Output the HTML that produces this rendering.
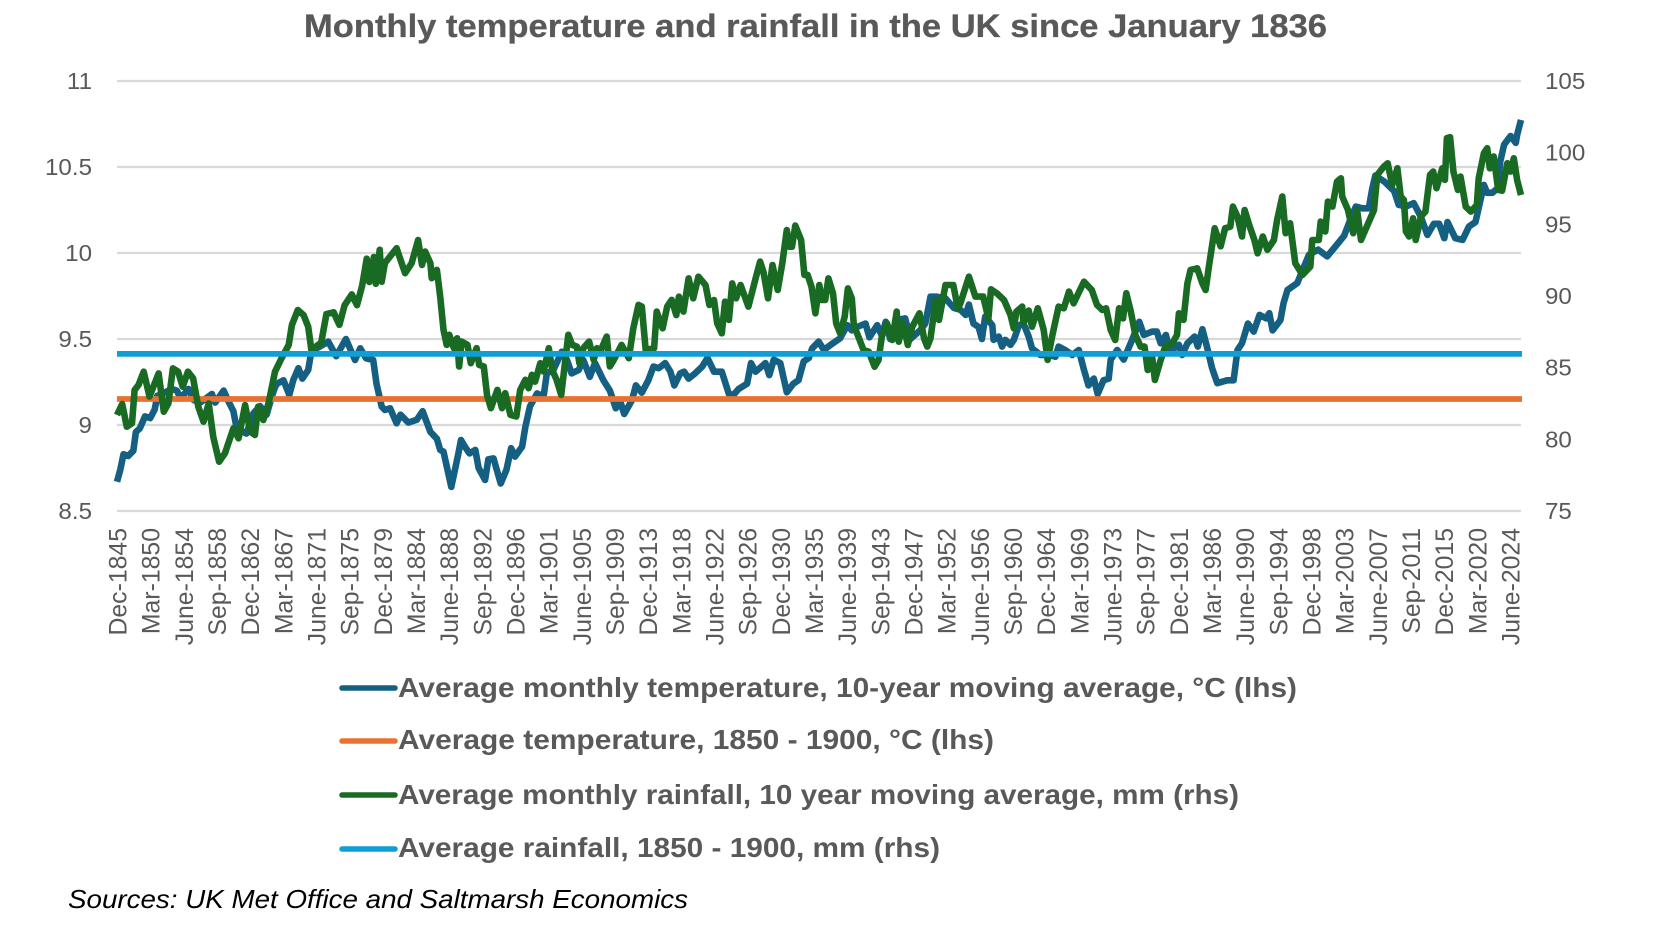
<!DOCTYPE html>
<html lang="en">
<head>
<meta charset="utf-8">
<title>Monthly temperature and rainfall in the UK since January 1836</title>
<style>
html,body{margin:0;padding:0;background:#fff;}
svg{display:block;font-family:"Liberation Sans",sans-serif;}
</style>
</head>
<body>
<svg id="chart" xmlns="http://www.w3.org/2000/svg" width="1665" height="942" viewBox="0 0 1665 942">
  <rect x="0" y="0" width="1665" height="942" fill="#ffffff"/>
  <text x="304" y="37" font-size="32" font-weight="700" fill="#595959" stroke="#595959" stroke-width="0.3" textLength="1023" lengthAdjust="spacingAndGlyphs">Monthly temperature and rainfall in the UK since January 1836</text>
  <g id="grid"></g>
  <g id="left-axis"></g>
  <g id="right-axis"></g>
  <g id="x-axis"></g>
  <g id="series"></g>

  <g>
    <g>
      <line x1="342" x2="395" y1="688" y2="688" stroke="#156082" stroke-width="5.5" stroke-linecap="round"/>
      <text x="398" y="697" font-size="28" font-weight="700" fill="#595959" textLength="899" lengthAdjust="spacingAndGlyphs">Average monthly temperature, 10-year moving average, °C (lhs)</text>
    </g>
    <g>
      <line x1="342" x2="395" y1="741" y2="741" stroke="#E97132" stroke-width="5.5" stroke-linecap="round"/>
      <text x="398" y="749" font-size="28" font-weight="700" fill="#595959" textLength="596" lengthAdjust="spacingAndGlyphs">Average temperature, 1850 - 1900, °C (lhs)</text>
    </g>
    <g>
      <line x1="342" x2="395" y1="795" y2="795" stroke="#196B24" stroke-width="5.5" stroke-linecap="round"/>
      <text x="398" y="804" font-size="28" font-weight="700" fill="#595959" textLength="841" lengthAdjust="spacingAndGlyphs">Average monthly rainfall, 10 year moving average, mm (rhs)</text>
    </g>
    <g>
      <line x1="342" x2="395" y1="849" y2="849" stroke="#0F9ED5" stroke-width="5.5" stroke-linecap="round"/>
      <text x="398" y="857" font-size="28" font-weight="700" fill="#595959" textLength="542" lengthAdjust="spacingAndGlyphs">Average rainfall, 1850 - 1900, mm (rhs)</text>
    </g>
  </g>

  <text x="68" y="908" font-size="25.6" font-style="italic" fill="#000000" textLength="620" lengthAdjust="spacingAndGlyphs">Sources: UK Met Office and Saltmarsh Economics</text>
</svg>

<script>
const categoryLabels = ["Dec-1845","Mar-1850","June-1854","Sep-1858","Dec-1862","Mar-1867","June-1871","Sep-1875","Dec-1879","Mar-1884","June-1888","Sep-1892","Dec-1896","Mar-1901","June-1905","Sep-1909","Dec-1913","Mar-1918","June-1922","Sep-1926","Dec-1930","Mar-1935","June-1939","Sep-1943","Dec-1947","Mar-1952","June-1956","Sep-1960","Dec-1964","Mar-1969","June-1973","Sep-1977","Dec-1981","Mar-1986","June-1990","Sep-1994","Dec-1998","Mar-2003","June-2007","Sep-2011","Dec-2015","Mar-2020","June-2024"];
const categoryStepMonths = 51;
const lastMonth = 2159;
const leftTicks = ["8.5","9","9.5","10","10.5","11"];
const rightTicks = ["75","80","85","90","95","100","105"];
const temperatureBaseline = 9.151;
const rainfallBaseline = 85.96;

const tempMonths = [
0,5,10,17,25,29,35,43,51,58,
62,69,84,92,98,110,118,128,146,151,
164,171,179,184,189,199,210,220,230,238,
243,246,256,265,271,279,285,294,299,312,
325,337,352,366,374,383,394,399,407,412,
420,430,436,448,461,470,482,492,497,502,
514,525,529,535,542,551,556,566,571,579,
590,599,606,612,623,628,635,646,656,661,
671,684,692,699,710,717,727,735,748,758,
767,774,780,792,798,807,817,825,833,843,
851,857,866,872,879,889,900,908,918,930,
941,948,956,969,975,982,997,1003,1010,1020,
1030,1040,1048,1056,1064,1069,1079,1087,1097,1112,
1123,1130,1138,1151,1157,1169,1176,1182,1189,1200,
1212,1220,1235,1243,1251,1261,1274,1287,1297,1305,
1310,1317,1325,1330,1335,1346,1348,1356,1361,1366,
1374,1379,1387,1394,1402,1407,1420,1433,1443,1448,
1458,1469,1479,1487,1494,1502,1508,1517,1525,1528,
1538,1548,1561,1572,1579,1592,1599,1605,1613,1619,
1633,1638,1646,1657,1662,1669,1676,1684,1692,1707,
1717,1723,1730,1739,1748,1757,1767,1772,1777,1789,
1794,1800,1815,1823,1833,1847,1861,1874,1887,1894,
1905,1915,1925,1930,1935,1949,1964,1971,1982,1994,
2005,2015,2025,2033,2041,2046,2058,2069,2079,2089,
2102,2107,2115,2123,2127,2133,2143,2151,2153,2159];
const tempValues = [
8.67,8.74,8.83,8.82,8.85,8.96,8.98,9.05,9.04,9.09,
9.17,9.18,9.21,9.20,9.155,9.21,9.145,9.13,9.18,9.13,
9.20,9.14,9.08,8.98,8.97,8.95,9.07,9.11,9.06,9.165,
9.22,9.24,9.26,9.175,9.26,9.33,9.27,9.32,9.43,9.456,
9.485,9.40,9.50,9.378,9.446,9.388,9.378,9.24,9.107,9.087,
9.097,9.01,9.06,9.014,9.03,9.08,8.96,8.92,8.855,8.845,
8.64,8.835,8.913,8.874,8.835,8.855,8.75,8.68,8.80,8.806,
8.66,8.74,8.865,8.816,8.874,8.99,9.107,9.184,9.165,9.30,
9.32,9.426,9.378,9.30,9.32,9.378,9.28,9.36,9.26,9.20,
9.097,9.136,9.064,9.145,9.23,9.188,9.26,9.34,9.33,9.36,
9.31,9.23,9.30,9.31,9.27,9.30,9.34,9.39,9.31,9.31,
9.18,9.175,9.21,9.24,9.36,9.31,9.36,9.29,9.38,9.36,
9.19,9.24,9.26,9.37,9.39,9.446,9.485,9.436,9.465,9.504,
9.58,9.55,9.57,9.59,9.51,9.58,9.52,9.60,9.50,9.61,
9.62,9.50,9.55,9.59,9.746,9.746,9.736,9.68,9.67,9.64,
9.70,9.59,9.57,9.50,9.63,9.58,9.495,9.514,9.456,9.495,
9.466,9.495,9.58,9.59,9.514,9.446,9.407,9.407,9.397,9.456,
9.436,9.407,9.436,9.32,9.23,9.27,9.18,9.26,9.27,9.38,
9.436,9.38,9.495,9.60,9.524,9.543,9.543,9.475,9.524,9.427,
9.466,9.407,9.475,9.514,9.456,9.557,9.456,9.33,9.243,9.26,
9.26,9.436,9.475,9.59,9.543,9.64,9.62,9.65,9.55,9.61,
9.71,9.785,9.825,9.90,9.99,10.02,9.98,10.04,10.10,10.17,
10.27,10.26,10.26,10.37,10.45,10.415,10.36,10.28,10.27,10.29,
10.21,10.105,10.17,10.17,10.086,10.18,10.086,10.076,10.154,10.18,
10.396,10.35,10.35,10.376,10.53,10.63,10.68,10.64,10.686,10.774];

const rainMonths = [
0,8,15,23,27,33,41,50,56,64,
72,79,86,94,101,109,117,125,133,141,
148,157,166,179,187,197,205,212,217,225,
233,243,253,264,269,278,287,294,299,303,
314,322,333,342,350,361,369,377,384,388,
395,398,404,407,412,430,443,453,463,469,
474,482,484,492,497,502,507,511,518,523,
526,530,539,544,553,557,564,569,575,585,
592,597,605,614,620,628,633,638,643,651,
656,664,669,676,683,694,700,707,711,717,
726,733,738,743,753,758,764,776,787,794,
802,807,813,826,830,839,846,853,860,864,
871,879,886,894,905,911,918,923,930,935,
941,946,952,959,971,982,989,994,1001,1008,
1016,1023,1030,1034,1038,1043,1052,1057,1062,1068,
1074,1080,1084,1089,1094,1101,1106,1112,1119,1124,
1130,1133,1141,1148,1156,1165,1171,1176,1184,1192,
1199,1202,1209,1216,1223,1234,1241,1246,1251,1259,
1264,1274,1286,1293,1297,1310,1320,1332,1340,1344,
1353,1364,1374,1379,1383,1392,1394,1402,1407,1416,
1425,1431,1438,1448,1456,1464,1471,1487,1499,1507,
1515,1521,1528,1535,1541,1547,1552,1559,1566,1574,
1580,1585,1592,1596,1605,1612,1623,1630,1633,1640,
1646,1651,1661,1669,1674,1679,1688,1697,1704,1712,
1716,1723,1730,1734,1741,1749,1754,1762,1769,1779,
1784,1792,1797,1804,1812,1823,1835,1838,1848,1851,
1858,1862,1869,1876,1882,1884,1893,1901,1907,1913,
1923,1933,1938,1948,1954,1961,1969,1974,1979,1982,
1987,1993,1997,2005,2012,2019,2024,2029,2038,2042,
2045,2050,2055,2062,2066,2074,2082,2091,2094,2102,
2107,2111,2117,2124,2130,2138,2143,2148,2153,2159];
const rainValues = [
81.70,82.46,80.88,81.12,83.44,83.79,84.72,82.98,83.67,84.60,
81.93,82.51,84.95,84.72,83.67,84.72,84.26,82.28,81.23,82.51,
80.19,78.44,79.02,80.77,80.07,82.39,80.53,80.30,82.28,81.35,
82.51,84.72,85.65,86.58,87.98,89.02,88.67,87.86,86.23,86.37,
86.74,88.74,88.86,87.99,89.36,90.11,89.36,90.73,92.60,90.98,
92.72,90.85,93.22,91.00,92.30,93.33,91.59,92.29,93.91,92.17,
93.10,92.29,91.24,91.82,89.96,87.64,86.59,87.29,86.36,87.05,
85.08,86.82,86.59,85.31,86.36,85.19,85.08,83.10,82.17,83.45,
82.17,83.22,81.71,81.59,83.45,84.15,83.57,84.50,84.03,85.31,
84.73,86.36,84.85,84.15,83.10,87.29,86.59,86.47,85.31,86.36,
86.82,85.54,86.36,86.12,87.17,85.08,85.54,86.59,85.66,87.75,
89.38,89.26,86.24,86.36,88.91,87.75,89.26,89.73,88.67,89.95,
88.91,91.23,89.84,91.35,90.77,89.37,89.72,88.09,87.40,89.60,
88.33,90.88,89.84,90.77,89.26,91.23,92.40,91.70,89.84,92.16,
90.42,92.28,94.60,93.44,93.44,94.91,93.91,91.47,91.47,90.65,
88.79,90.77,89.72,89.72,91.23,90.19,88.09,87.40,88.56,90.53,
89.84,87.98,87.05,86.23,86.12,85.07,85.53,87.16,88.09,86.93,
88.91,86.81,88.09,86.58,87.86,88.79,87.05,86.47,87.05,89.72,
88.33,90.77,90.77,89.14,89.49,91.35,89.96,89.96,88.44,90.47,
90.19,89.72,88.68,87.75,88.91,89.26,88.10,88.98,87.86,89.14,
87.63,85.54,87.17,89.26,89.14,90.31,89.49,91.00,90.42,89.38,
89.03,89.14,87.63,86.93,89.14,88.44,90.19,88.91,87.28,86.47,
86.47,84.84,85.65,84.14,85.54,86.47,86.70,87.28,88.79,88.33,
90.88,91.82,91.93,90.88,90.42,92.05,94.72,93.47,94.72,94.84,
96.24,95.54,94.15,96.00,94.96,93.91,92.98,94.15,93.22,93.91,
95.30,96.94,94.38,95.07,92.28,91.47,92.05,93.91,93.91,95.19,
94.50,96.59,96.24,97.98,98.21,96.94,96.00,94.38,96.00,93.91,
94.96,96.00,98.45,99.03,99.26,97.75,98.91,96.94,96.70,94.50,
94.15,95.42,93.91,95.54,95.89,98.45,98.68,97.52,98.91,98.10,
101.01,101.08,98.68,97.40,98.33,96.24,95.89,96.35,98.21,99.96,
100.31,98.91,99.73,97.40,97.35,99.26,98.68,99.61,98.10,97.05];

const SVG_NS = "http://www.w3.org/2000/svg";
const plotLeft = 117, plotRight = 1521, plotTop = 81, plotBottom = 511;
const leftMin = 8.5, leftMax = 11, rightMin = 75, rightMax = 105;
const xScale = m => plotLeft + (plotRight - plotLeft) * m / lastMonth;
const yLeft = v => plotBottom - (plotBottom - plotTop) * (v - leftMin) / (leftMax - leftMin);
const yRight = v => plotBottom - (plotBottom - plotTop) * (v - rightMin) / (rightMax - rightMin);
const textStretch = 1.05;

const make = (tag, parent) => {
  const el = document.createElementNS(SVG_NS, tag);
  parent.appendChild(el);
  return el;
};

const gridGroup = document.getElementById("grid");
const leftGroup = document.getElementById("left-axis");
const rightGroup = document.getElementById("right-axis");
const xGroup = document.getElementById("x-axis");
const seriesGroup = document.getElementById("series");

leftTicks.forEach(label => {
  const y = yLeft(parseFloat(label));
  const line = make("line", gridGroup);
  
  
  line.setAttribute("x1", plotLeft);
  line.setAttribute("x2", plotRight);
  line.setAttribute("y1", y);
  line.setAttribute("y2", y);
  line.setAttribute("stroke", "#d9d9d9");
  line.setAttribute("stroke-width", "2.2");

  const text = make("text", leftGroup);
  
  
  text.setAttribute("transform", "translate(92," + (y + 8) + ") scale(" + textStretch + ",1)");
  text.setAttribute("text-anchor", "end");
  text.setAttribute("font-size", "23");
  text.setAttribute("fill", "#595959");
  text.textContent = label;
});

rightTicks.forEach((label, i) => {
  const y = yRight(parseFloat(label));
  const text = make("text", rightGroup);
  
  
  text.setAttribute("transform", "translate(1545," + (y + 8) + ") scale(" + textStretch + ",1)");
  text.setAttribute("font-size", "23");
  text.setAttribute("fill", "#595959");
  text.textContent = label;
});

categoryLabels.forEach((label, i) => {
  const x = xScale(i * categoryStepMonths);
  const text = make("text", xGroup);
  
  
  text.setAttribute("transform", "translate(" + (x + 9.5) + ",528) rotate(-90)");
  text.setAttribute("text-anchor", "end");
  text.setAttribute("font-size", "24.8");
  text.setAttribute("fill", "#595959");
  text.textContent = label;
});

const linePath = (months, values, yFn) =>
  months.map((m, i) => (i ? "L" : "M") + xScale(m).toFixed(1) + " " + yFn(values[i]).toFixed(1)).join("");

const tempLine = make("path", seriesGroup);


tempLine.setAttribute("d", linePath(tempMonths, tempValues, yLeft));
tempLine.setAttribute("fill", "none");
tempLine.setAttribute("stroke", "#156082");
tempLine.setAttribute("stroke-width", "6.6");
tempLine.setAttribute("stroke-linejoin", "round");

const tempBaseLine = make("line", seriesGroup);


tempBaseLine.setAttribute("x1", xScale(0));
tempBaseLine.setAttribute("x2", xScale(lastMonth) + 1);
tempBaseLine.setAttribute("y1", yLeft(temperatureBaseline));
tempBaseLine.setAttribute("y2", yLeft(temperatureBaseline));
tempBaseLine.setAttribute("stroke", "#E97132");
tempBaseLine.setAttribute("stroke-width", "5.8");

const rainLine = make("path", seriesGroup);


rainLine.setAttribute("d", linePath(rainMonths, rainValues, yRight));
rainLine.setAttribute("fill", "none");
rainLine.setAttribute("stroke", "#196B24");
rainLine.setAttribute("stroke-width", "6.6");
rainLine.setAttribute("stroke-linejoin", "round");

const rainBaseLine = make("line", seriesGroup);


rainBaseLine.setAttribute("x1", xScale(0));
rainBaseLine.setAttribute("x2", xScale(lastMonth) + 1);
rainBaseLine.setAttribute("y1", yRight(rainfallBaseline));
rainBaseLine.setAttribute("y2", yRight(rainfallBaseline));
rainBaseLine.setAttribute("stroke", "#0F9ED5");
rainBaseLine.setAttribute("stroke-width", "5.8");
</script>
</body>
</html>
